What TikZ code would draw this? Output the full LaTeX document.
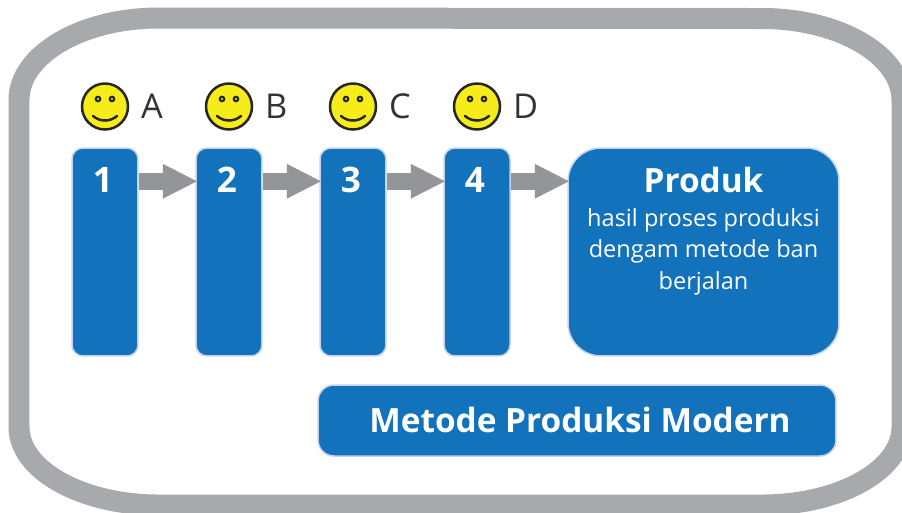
\documentclass[tikz,border=0pt]{standalone}
\usepackage{fontspec}
\setmainfont{Open Sans}
\usepackage{tikz}
\usetikzlibrary{arrows.meta}
\definecolor{bandblue}{HTML}{1272BC}
\definecolor{edgeblue}{HTML}{C4D2EC}
\definecolor{framegray}{HTML}{A7A9AC}
\definecolor{arrowgray}{HTML}{939598}
\definecolor{faceyellow}{HTML}{F5EC1A}
\tikzset{
  stationbox/.style={draw=edgeblue,line width=0.03cm,fill=bandblue,rounded corners=0.22cm,minimum width=1.32cm,minimum height=4.16cm,inner sep=0pt},
  stationnum/.style={text=white,font=\fontsize{20}{20}\selectfont\bfseries},
  flowarrow/.style={arrowgray,line width=0.34cm,-{Triangle[length=0.7cm,width=0.64cm]},shorten >=-0.05cm},
  workerface/.style={circle,draw=black!85,line width=0.05cm,fill=faceyellow,minimum size=0.92cm,inner sep=0pt},
  workername/.style={text=black!80,font=\fontsize{19.5}{19.5}\selectfont,anchor=west},
}
\begin{document}
\begin{tikzpicture}[x=0.02cm,y=-0.02cm]
\clip (0,0) rectangle (902,512);
\fill[white] (0,0) rectangle (902,512);
\draw[framegray,line width=0.42cm] (19,100) arc[start angle=180,end angle=270,x radius=140,y radius=82] -- (762,18.5)
   arc[start angle=-90,end angle=0,x radius=140,y radius=82] -- (902,427)
   arc[start angle=0,end angle=90,x radius=140,y radius=78] -- (159,505)
   arc[start angle=90,end angle=180,x radius=140,y radius=78] -- cycle;
\foreach \n/\x/\name in {1/105/A,2/229/B,3/353/C,4/477/D} {
   \node[stationbox] (box\n) at (\x,252) {};
   \node[stationnum] (num\n) at (\x-2,180) {\n};
   \node[workerface] (face\n) at (\x,106.5) {};
   \node[workername] (name\n) at (\x+30,106) {\name};
   \fill[black!85] (\x-7,99) circle[radius=3.4] (\x+7,99) circle[radius=3.4];
   \fill[faceyellow] (\x-7,99) circle[radius=1.2] (\x+7,99) circle[radius=1.2];
   \draw[black!85,line width=0.05cm,line cap=round] (\x-12,116) .. controls (\x-5,122) and (\x+5,122) .. (\x+12,116);
}
\node[stationbox,rounded corners=0.66cm,minimum width=5.42cm] (produk) at (703.5,252) {};
\node[text=white,font=\fontsize{19}{19}\selectfont\bfseries] (produktitle) at (703.5,180) {Produk};
\node[text=white,font=\fontsize{13.4}{17.9}\selectfont,align=center,anchor=north] (produktext) at (703.5,202) {hasil proses produksi\\dengam metode ban\\berjalan};
\node[stationbox,rounded corners=0.32cm,minimum width=10.36cm,minimum height=1.42cm] (modern) at (577,420.5) {};
\node[text=white,font=\fontsize{19}{19}\selectfont\bfseries] (moderntext) at (580,420) {Metode Produksi Modern};
\foreach \a/\b in {box1/box2,box2/box3,box3/box4,box4/produk}
   \draw[flowarrow] ([yshift=-0.68cm]\a.north east) -- ([yshift=-0.68cm]\b.north west);
\end{tikzpicture}
\end{document}
